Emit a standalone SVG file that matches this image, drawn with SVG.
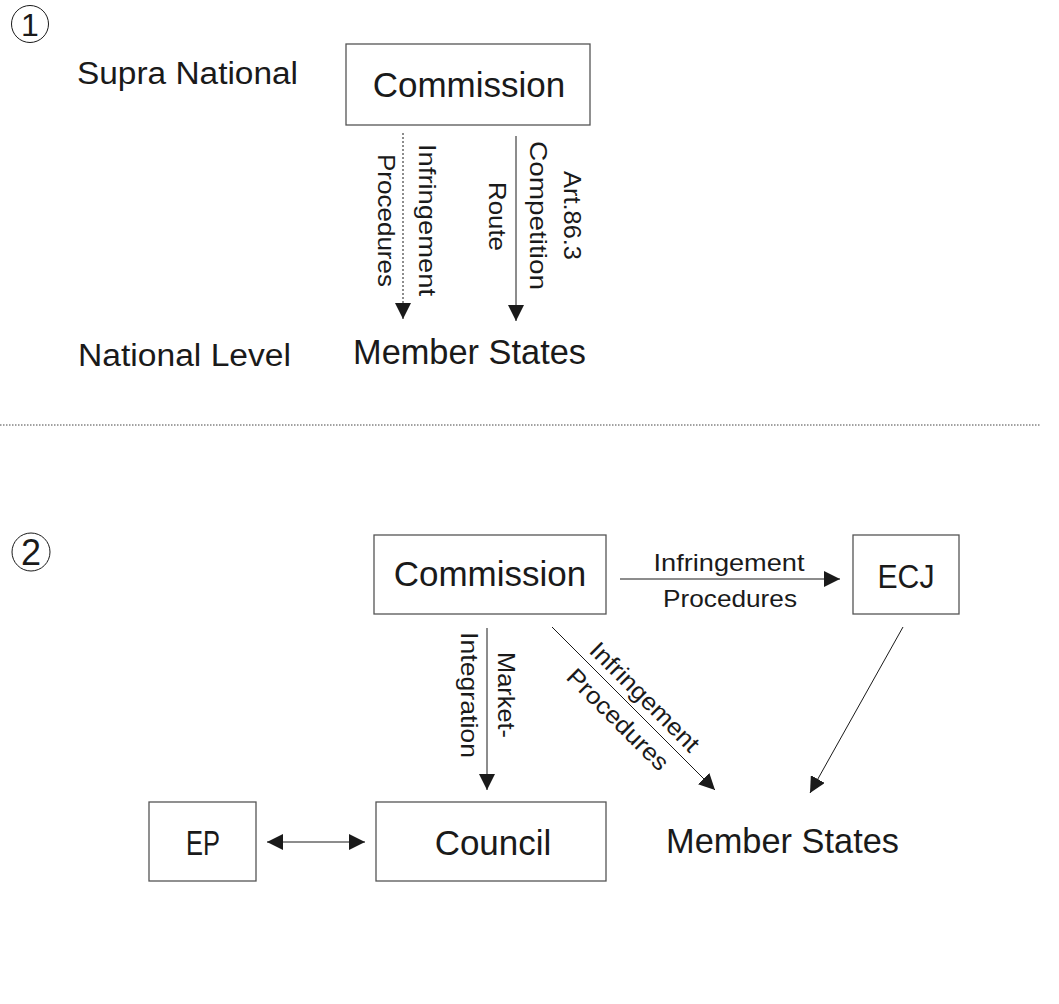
<svg xmlns="http://www.w3.org/2000/svg" width="1059" height="1004" viewBox="0 0 1059 1004">
<defs>
<style>
text{font-family:"Liberation Sans",Arial,sans-serif;fill:#1a1a1a}
.big{font-size:35px}
.lvl{font-size:31px}
.lab{font-size:24px}
.mid{text-anchor:middle}
.box{fill:#fff;stroke:#555;stroke-width:1.3}
.ln{stroke:#1a1a1a;stroke-width:1;fill:none}
.dot{stroke:#1a1a1a;stroke-width:1;stroke-dasharray:2 2;fill:none}
.num{fill:none;stroke:#1a1a1a;stroke-width:1}
</style>
<marker id="ah" markerWidth="16" markerHeight="16" refX="16" refY="8" orient="auto-start-reverse" markerUnits="userSpaceOnUse">
<path d="M0,0 L16,8 L0,16 z" fill="#1a1a1a"/>
</marker>
</defs>
<rect width="1059" height="1004" fill="#fff"/>

<g id="label-1">
<circle class="num" cx="30" cy="24" r="18.5"/>
<text x="30" y="36" class="mid" font-size="32">1</text>
</g>
<g id="label-supra"><text x="77" y="84" class="lvl" textLength="221" lengthAdjust="spacingAndGlyphs">Supra National</text></g>
<g id="label-national"><text x="78" y="366" class="lvl" textLength="213" lengthAdjust="spacingAndGlyphs">National Level</text></g>

<g id="commission-1">
<rect class="box" x="346" y="44" width="244" height="81"/>
<text x="469" y="97" class="big mid">Commission</text>
</g>
<g id="member-states-1"><text x="353" y="364" class="big" textLength="233" lengthAdjust="spacingAndGlyphs">Member States</text></g>

<line id="separator" x1="0" y1="425" x2="1040" y2="425" stroke="#444" stroke-width="1" stroke-dasharray="1.5 1.5"/>

<g id="label-2">
<circle class="num" cx="31" cy="552" r="19"/>
<text x="31" y="565" class="mid" font-size="36">2</text>
</g>

<g id="commission-2">
<rect class="box" x="374" y="535" width="232" height="79"/>
<text x="490" y="586" class="big mid">Commission</text>
</g>
<g id="ecj">
<rect class="box" x="853" y="535" width="106" height="79"/>
<text x="906" y="588" class="mid" font-size="34" textLength="57" lengthAdjust="spacingAndGlyphs">ECJ</text>
</g>
<g id="ep">
<rect class="box" x="149" y="802" width="107" height="79"/>
<text x="203" y="855" class="big mid" textLength="34" lengthAdjust="spacingAndGlyphs">EP</text>
</g>
<g id="council">
<rect class="box" x="376" y="802" width="230" height="79"/>
<text x="493" y="855" class="big mid">Council</text>
</g>
<g id="member-states-2"><text x="666" y="853" class="big" textLength="233" lengthAdjust="spacingAndGlyphs">Member States</text></g>

<g id="connectors">
<line class="dot" x1="403" y1="133" x2="403" y2="319" marker-end="url(#ah)"/>
<line class="ln" x1="516" y1="136" x2="516" y2="321" marker-end="url(#ah)"/>
<line class="ln" x1="620" y1="579" x2="840" y2="579" marker-end="url(#ah)"/>
<line class="ln" x1="487" y1="628" x2="487" y2="790" marker-end="url(#ah)"/>
<line class="ln" x1="552" y1="627" x2="715" y2="790" marker-end="url(#ah)"/>
<line class="ln" x1="903" y1="627" x2="810" y2="793" marker-end="url(#ah)"/>
<line class="ln" x1="267" y1="842" x2="365" y2="842" marker-start="url(#ah)" marker-end="url(#ah)"/>

<g class="lab">
<text transform="translate(419,220) rotate(90)" class="mid" textLength="152" lengthAdjust="spacingAndGlyphs">Infringement</text>
<text transform="translate(378,220.5) rotate(90)" class="mid" textLength="133" lengthAdjust="spacingAndGlyphs">Procedures</text>
<text transform="translate(530,215.5) rotate(90)" class="mid" textLength="149" lengthAdjust="spacingAndGlyphs">Competition</text>
<text transform="translate(489,216.5) rotate(90)" class="mid" textLength="69" lengthAdjust="spacingAndGlyphs">Route</text>
<text transform="translate(564,215.5) rotate(90)" class="mid" textLength="89" lengthAdjust="spacingAndGlyphs">Art.86.3</text>

<text x="729" y="571" class="mid" textLength="151" lengthAdjust="spacingAndGlyphs">Infringement</text>
<text x="730" y="607" class="mid" textLength="134" lengthAdjust="spacingAndGlyphs">Procedures</text>

<text transform="translate(498,695) rotate(90)" class="mid" textLength="86" lengthAdjust="spacingAndGlyphs">Market-</text>
<text transform="translate(461,695) rotate(90)" class="mid" textLength="126" lengthAdjust="spacingAndGlyphs">Integration</text>

<g transform="translate(552,627) rotate(45)">
<text x="115" y="-8" class="mid" textLength="144" lengthAdjust="spacingAndGlyphs">Infringement</text>
<text x="112" y="27" class="mid" textLength="133" lengthAdjust="spacingAndGlyphs">Procedures</text>
</g>
</g>
</g>
</svg>
